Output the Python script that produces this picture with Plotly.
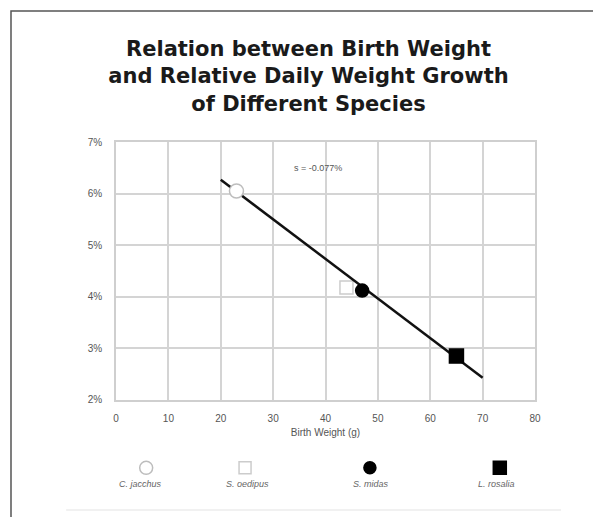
import plotly.graph_objects as go

species = ["C. jacchus", "S. oedipus", "S. midas", "L. rosalia"]
birth_weight = [23, 44, 47, 65]
growth = [0.0605, 0.0418, 0.0412, 0.0285]
trend_x = [20, 70]
trend_y = [0.0627, 0.0243]
slope_label = "s = -0.077%"
x_ticks = [0, 10, 20, 30, 40, 50, 60, 70, 80]
y_ticks = [0.02, 0.03, 0.04, 0.05, 0.06, 0.07]

symbols = ["circle", "square", "circle", "square"]
fills = ["white", "white", "black", "black"]
lines = ["#bdbdbd", "#cccccc", "black", "black"]
sizes = [14, 13, 13, 14]
legend_x = [0.072, 0.308, 0.606, 0.916]
label_x = [0.058, 0.315, 0.609, 0.907]


def marker_trace(i):
    return go.Scatter(x=[birth_weight[i]], y=[growth[i]], mode="markers",
                      marker=dict(symbol=symbols[i], color=fills[i], size=sizes[i],
                                  line=dict(color=lines[i], width=1.5)),
                      name=species[i], showlegend=False)


fig = go.Figure()
fig.add_trace(marker_trace(1))
fig.add_trace(go.Scatter(x=trend_x, y=trend_y, mode="lines",
                         line=dict(color="#111", width=2.5), showlegend=False,
                         hoverinfo="skip"))
for i in [0, 2, 3]:
    fig.add_trace(marker_trace(i))
for i in range(len(species)):
    fig.add_trace(go.Scatter(x=[legend_x[i]], y=[0.5], mode="markers", xaxis="x2", yaxis="y2",
                             marker=dict(symbol=symbols[i], color=fills[i], size=sizes[i] - 1,
                                         line=dict(color=lines[i], width=1.5)),
                             showlegend=False, hoverinfo="skip"))

annotations = [dict(x=38.5, y=0.065, xref="x", yref="y", text=slope_label, showarrow=False,
                    font=dict(size=9, color="#555"))]
for i, sp in enumerate(species):
    annotations.append(dict(x=label_x[i], y=-0.018, xref="x2", yref="paper",
                            text="<i>" + sp + "</i>", showarrow=False,
                            font=dict(size=9, color="#666")))

fig.update_layout(
    width=601, height=517,
    paper_bgcolor="white", plot_bgcolor="white",
    margin=dict(l=108, r=74, t=134, b=40),
    title=dict(text="Relation between Birth Weight<br>and Relative Daily Weight Growth<br>of Different Species",
               x=0.5, xanchor="center", y=0.907, yanchor="middle",
               font=dict(family="DejaVu Sans", size=21, color="#1a1a1a", weight="bold")),
    font=dict(family="Liberation Sans", size=10, color="#555"),
    xaxis=dict(range=[0, 80], tickvals=x_ticks, showgrid=True, gridcolor="#d4d4d4", gridwidth=1.5,
               showline=True, linecolor="#cfcfcf", linewidth=1.5, mirror=True, zeroline=False,
               ticks="outside", ticklen=8, tickcolor="white",
               title=dict(text="Birth Weight (g)", standoff=6, font=dict(size=10, color="#555")),
               domain=[0, 1]),
    yaxis=dict(range=[0.02, 0.07], tickvals=y_ticks, tickformat=".0%", showgrid=True,
               gridcolor="#d4d4d4", gridwidth=1.5, showline=True, linecolor="#cfcfcf",
               linewidth=1.5, mirror=True, zeroline=False, ticks="outside", ticklen=10,
               tickcolor="white", domain=[0.248, 1]),
    xaxis2=dict(range=[0, 1], domain=[0, 1], anchor="y2", visible=False),
    yaxis2=dict(range=[0, 1], domain=[0.0, 0.1], anchor="x2", visible=False),
    annotations=annotations,
    shapes=[
        dict(type="rect", xref="paper", yref="paper", x0=-0.2506, x1=1.167,
             y0=-0.108, y1=1.382, line=dict(color="#555", width=1.5)),
        dict(type="line", xref="paper", yref="paper", x0=-0.119, x1=1.062,
             y0=-0.073, y1=-0.073, line=dict(color="#ececec", width=1.5)),
    ],
)

fig.write_html("out.html")
